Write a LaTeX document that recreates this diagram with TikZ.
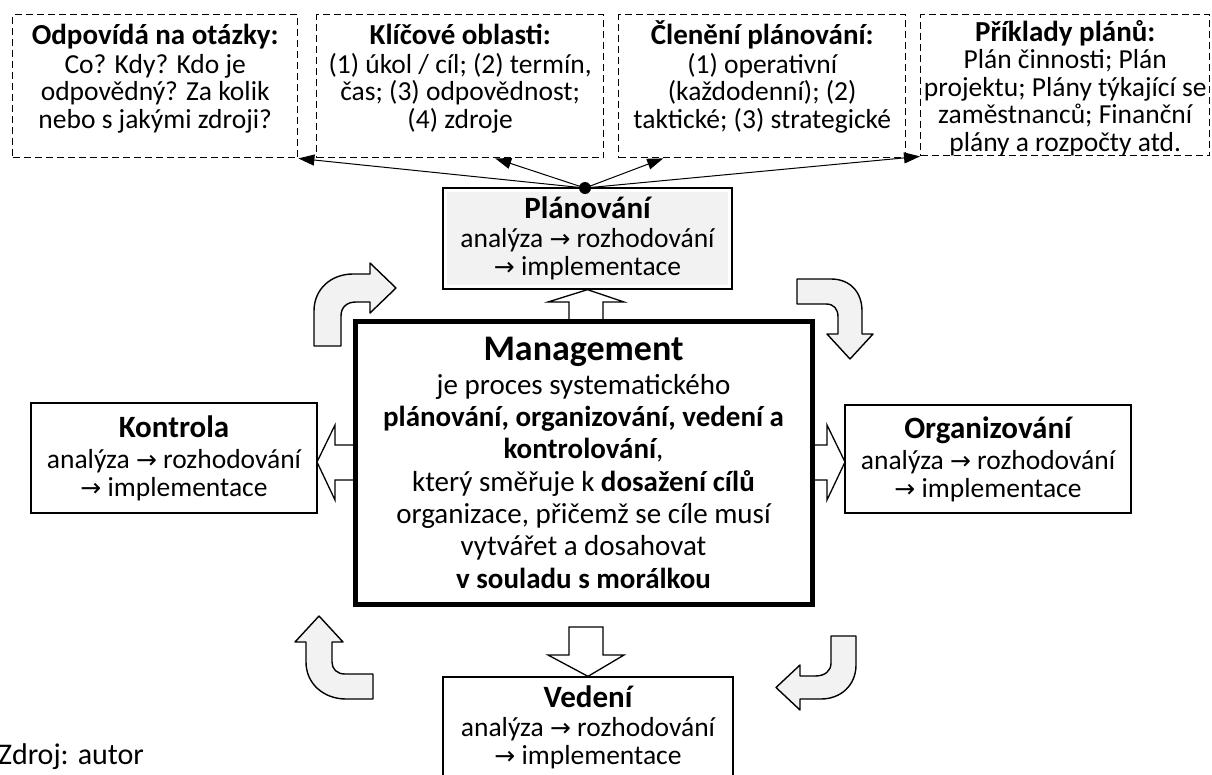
\documentclass[tikz,border=0pt]{standalone}
\usepackage{fontspec}
\setmainfont{Carlito}
\newfontfamily\arrowfont{DejaVu Sans}
\usetikzlibrary{positioning,arrows.meta}
\definecolor{softgray}{HTML}{F2F2F2}
\newcommand{\nxt}{{\arrowfont\fontsize{25}{25}\selectfont →}}
\newcommand{\boxfont}{\fontsize{27.5}{28}\selectfont}
\newcommand{\infofont}{\fontsize{27.5}{27.5}\selectfont}
\newcommand{\headfont}{\fontsize{31}{32}\selectfont\bfseries}
\newcommand{\infohead}{\rule{0pt}{27pt}\fontsize{29}{30}\selectfont\bfseries}

\begin{document}
\begin{tikzpicture}[x=1pt,y=-1pt,
    every node/.style={align=center,inner sep=0pt,font=\boxfont},
    infobox/.style={draw,line width=1.4pt,dash pattern=on 7pt off 4pt,anchor=north west},
    infotext/.style={font=\infofont},
    stepbox/.style={draw,line width=1.3pt,fill=white},
    planbox/.style={stepbox,path picture={\fill[softgray]
        ([shift={(4pt,-4pt)}]path picture bounding box.north west) rectangle
        ([shift={(-4pt,4pt)}]path picture bounding box.south east);}},
    blockarrow/.style={draw,line width=1.3pt,fill=white,line join=miter},
    bendarrow/.style={draw,line width=1.4pt,fill=softgray,line join=round},
    link/.style={-{Triangle[length=16pt,width=11pt]},line width=1pt}]
\useasboundingbox (0,0) rectangle (1212,774);

% boxes on top
\node[infobox,minimum width=285,minimum height=143] (otazky) at (12,14) {};
\node[infobox,minimum width=287,minimum height=143] (oblasti) at (316,14) {};
\node[infobox,minimum width=287,minimum height=143] (cleneni) at (618,14) {};
\node[infobox,minimum width=289,minimum height=141] (priklady) at (920,14) {};
\node[infotext,below=3pt of otazky.north] (otazkyt)
    {{\infohead Odpovídá na otázky:}\\[1.5pt]Co? Kdy? Kdo je\\odpovědný? Za kolik\\nebo s jakými zdroji?};
\node[infotext,below=3pt of oblasti.north] (oblastit)
    {{\infohead Klíčové oblasti:}\\[1.5pt](1) úkol / cíl; (2) termín,\\čas; (3) odpovědnost;\\(4) zdroje};
\node[infotext,below=3pt of cleneni.north] (clenenit)
    {{\infohead Členění plánování:}\\[1.5pt](1) operativní\\(každodenní); (2)\\taktické; (3) strategické};
\node[infotext,below=0pt of priklady.north] (prikladyt)
    {{\infohead Příklady plánů:}\\Plán činnosti; Plán\\projektu; Plány týkající se\\zaměstnanců; Finanční\\plány a rozpočty atd.};

% the four functions
\node[planbox,minimum width=289,minimum height=101] (plan) at (587.5,238.5)
    {{\headfont Plánování}\\[1pt]analýza \nxt{} rozhodování\\\nxt{} implementace};
\node[stepbox,minimum width=286,minimum height=110] (kontrola) at (174,458)
    {{\headfont Kontrola}\\[3pt]analýza \nxt{} rozhodování\\\nxt{} implementace};
\node[stepbox,minimum width=286,minimum height=108] (org) at (988,459)
    {{\headfont Organizování}\\[3pt]analýza \nxt{} rozhodování\\\nxt{} implementace};
\node[stepbox,minimum width=290,minimum height=100] (vedeni) at (588,727)
    {{\headfont Vedení}\\[1pt]analýza \nxt{} rozhodování\\\nxt{} implementace};

% block arrows
\path[blockarrow] (569,321) -- (569,302) -- (548,302) -- (plan.south) -- (624,302) -- (603,302) -- (603,321);
\path[blockarrow] (569,627) -- (603,627) -- (603,655) -- (624,655) -- (vedeni.north) -- (548,655) -- (569,655) -- cycle;
\path[blockarrow] (355,445) -- (335,445) -- (335,425) -- (317,462) -- (335,500) -- (335,480) -- (355,480);
\path[blockarrow] (812,445) -- (827,445) -- (827,425) -- (845,462) -- (827,500) -- (827,480) -- (812,480);

\node[draw,line width=5pt,fill=white,minimum width=457,minimum height=283,
    font=\fontsize{29}{32.3}\selectfont] (mgmt) at (583.5,462.5)
    {{\fontsize{36}{40}\selectfont\bfseries Management}\\[2pt]
     je proces systematického\\
     \textbf{plánování, organizování, vedení a}\\
     \textbf{kontrolování},\\
     který směřuje k \textbf{dosažení cílů}\\
     organizace, přičemž se cíle musí\\
     vytvářet a dosahovat\\
     \textbf{v souladu s morálkou}};

% bent arrows round the cycle
\path[bendarrow] (314,346) -- (314,311) .. controls (314,289) and (331,274) .. (353,274) -- (370,274)
    -- (370,263) -- (396,288) -- (370,313) -- (370,302) -- (356,302)
    .. controls (347,302) and (341,307) .. (341,316) -- (341,346) -- cycle;
\path[bendarrow] (797,279) -- (831,279) .. controls (850,279) and (862,292) .. (862,311) -- (862,334)
    -- (873,334) -- (850,359) -- (827,334) -- (838,334) -- (838,317)
    .. controls (838,309) and (834,304) .. (826,304) -- (797,304) -- cycle;
\path[bendarrow] (856,636) -- (856,665) .. controls (856,685) and (841,699) .. (821,699) -- (800,699)
    -- (800,710) -- (776,687.5) -- (800,665) -- (800,676) -- (815,676)
    .. controls (825,676) and (831,671) .. (831,663) -- (831,636) -- cycle;
\path[bendarrow] (373,699) -- (346,699) .. controls (324,699) and (306,684) .. (306,662) -- (306,642)
    -- (295,642) -- (319,616) -- (343,642) -- (332,642) -- (332,662)
    .. controls (332,669) and (337,674) .. (345,674) -- (373,674) -- cycle;

% links from planning to the boxes on top
\coordinate (hub) at (585,188);
\draw[link] (hub) -- (otazky.south east);
\draw[link] (hub) -- ([xshift=35pt]oblasti.south);
\draw[link] (hub) -- ([xshift=-99pt]cleneni.south);
\draw[link] (hub) -- (priklady.south west);
\fill (hub) circle (6pt);

\node[anchor=west,font=\fontsize{30}{31}\selectfont] (zdroj) at (-2,757) {Zdroj: autor};
\end{tikzpicture}
\end{document}
